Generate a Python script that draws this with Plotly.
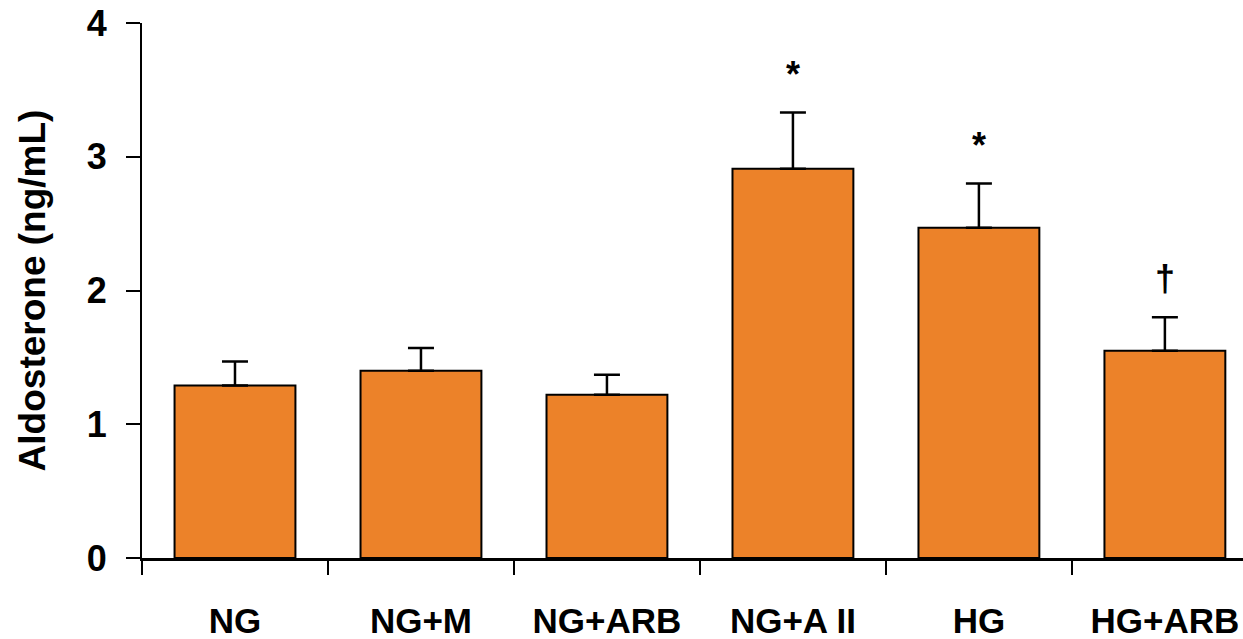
import plotly.graph_objects as go

categories = ["NG", "NG+M", "NG+ARB", "NG+A II", "HG", "HG+ARB"]
means = [1.29, 1.40, 1.22, 2.91, 2.47, 1.55]
sems = [0.18, 0.17, 0.15, 0.42, 0.33, 0.25]
marks = ["", "", "", "*", "*", "\u2020"]

FONT = "Liberation Sans, Arial, sans-serif"
BAR = "#EC8229"

fig = go.Figure()
fig.add_trace(go.Bar(
    x=categories, y=means, width=0.65,
    marker=dict(color=BAR, line=dict(color="black", width=2)),
    error_y=dict(type="data", array=sems, arrayminus=[0]*len(sems), symmetric=False,
                 color="black", thickness=2.5, width=13),
    cliponaxis=False,
))

for c, m, s, t in zip(categories, means, sems, marks):
    if t:
        fig.add_annotation(x=c, y=m + s, text=t, showarrow=False, yanchor="bottom",
                           yshift=16, font=dict(family=FONT, size=36, color="black", weight="bold"))

fig.update_layout(
    width=1243, height=639,
    margin=dict(l=142, r=0, t=23, b=81),
    plot_bgcolor="white", paper_bgcolor="white",
    showlegend=False, bargap=0.35,
    font=dict(family=FONT, color="black"),
    xaxis=dict(range=[-0.5, 5.42], tickson="boundaries", ticks="outside", ticklen=14, tickwidth=2,
               tickcolor="black", showline=True, linecolor="black", linewidth=2.5,
               showgrid=False, zeroline=False,
               tickfont=dict(family=FONT, size=35, color="black", weight="bold"),
               ticklabelstandoff=30),
    yaxis=dict(range=[0, 4], tickvals=[0, 1, 2, 3, 4], ticks="outside", ticklen=14, tickwidth=2,
               tickcolor="black", showline=True, linecolor="black", linewidth=2,
               showgrid=False, zeroline=False,
               tickfont=dict(family=FONT, size=36, color="black", weight="bold"),
               ticklabelstandoff=12,
               title=dict(text="Aldosterone (ng/mL)", standoff=30,
                          font=dict(family=FONT, size=37, color="black", weight="bold"))),
)

fig.write_html("out.html")
